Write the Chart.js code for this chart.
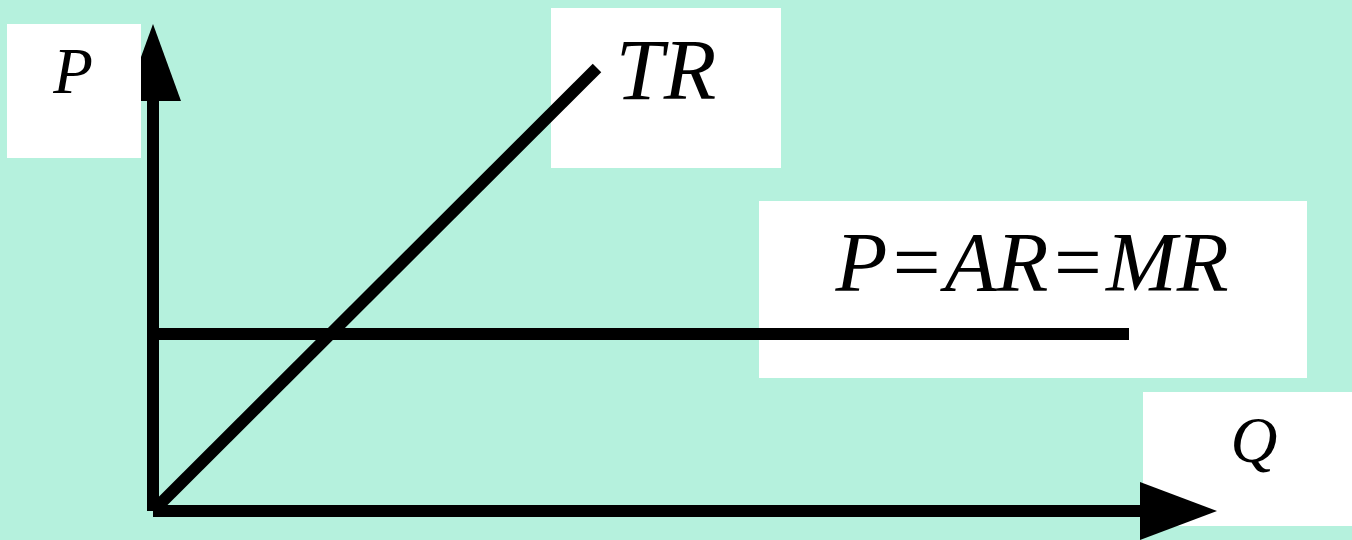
<!DOCTYPE html>
<html>
<head>
<meta charset="utf-8">
<script src="https://cdn.jsdelivr.net/npm/chart.js@4/dist/chart.umd.min.js"></script>
<style>
  html, body { margin: 0; padding: 0; background: #b5f1dd; overflow: hidden; }
  #wrap { width: 1352px; height: 540px; }
</style>
</head>
<body>
<div id="wrap"><canvas id="c" width="1352" height="540"></canvas></div>
<script>
// Quantity (Q) and revenue values of the diagram
const trQuantity = [0, 444];
const trRevenue = [0, 443];
const mrQuantity = [0, 976];
const mrPrice = [177, 177];
// axes drawn as lines: end of shaft and arrow tip
const yAxisQ = [0, 0];
const yAxisP = [0, 410];
const yAxisTip = 487;
const xAxisQ = [0, 987];
const xAxisP = [0, 0];
const xAxisTip = 1064;
// labels
const labelTexts = ['P', 'TR', 'P=AR=MR', 'Q'];
const labelAnchors = [[-80, 418], [513, 412], [879, 220], [1101, 49]];
const labelBoxes = [[-146, 487, -12, 353], [398, 503, 628, 343], [606, 310, 1154, 133], [990, 119, 1210, -15]];
const labelSizes = [65, 86, 85, 65];

const toPts = (xs, ys) => xs.map((x, i) => ({ x: x, y: ys[i] }));

function drawBox(ctx, sx, sy, i) {
  const b = labelBoxes[i];
  const x1 = sx.getPixelForValue(b[0]), y1 = sy.getPixelForValue(b[1]);
  const x2 = sx.getPixelForValue(b[2]), y2 = sy.getPixelForValue(b[3]);
  ctx.fillStyle = '#ffffff';
  ctx.fillRect(x1, y1, x2 - x1, y2 - y1);
  const a = labelAnchors[i];
  ctx.fillStyle = '#000000';
  ctx.font = 'italic ' + labelSizes[i] + 'px "Liberation Serif", "Times New Roman", serif';
  ctx.textAlign = 'center';
  ctx.textBaseline = 'alphabetic';
  ctx.fillText(labelTexts[i], sx.getPixelForValue(a[0]), sy.getPixelForValue(a[1]));
}

const diagramPlugin = {
  id: 'diagram',
  beforeDraw(chart) {
    const ctx = chart.ctx;
    ctx.save();
    ctx.fillStyle = '#b5f1dd';
    ctx.fillRect(0, 0, chart.width, chart.height);
    ctx.restore();
  },
  beforeDatasetsDraw(chart) {
    const ctx = chart.ctx, sx = chart.scales.x, sy = chart.scales.y;
    ctx.save();
    drawBox(ctx, sx, sy, 1);
    drawBox(ctx, sx, sy, 2);
    drawBox(ctx, sx, sy, 3);
    ctx.restore();
  },
  afterDatasetsDraw(chart) {
    const ctx = chart.ctx, sx = chart.scales.x, sy = chart.scales.y;
    ctx.save();
    ctx.fillStyle = '#000000';
    // y-axis arrow head
    const yx = sx.getPixelForValue(0);
    const yBase = sy.getPixelForValue(yAxisP[1]);
    const yTip = sy.getPixelForValue(yAxisTip);
    ctx.beginPath();
    ctx.moveTo(yx, yTip);
    ctx.lineTo(yx + 28, yBase);
    ctx.lineTo(yx - 28, yBase);
    ctx.closePath();
    ctx.fill();
    drawBox(ctx, sx, sy, 0);
    // x-axis arrow head
    ctx.fillStyle = '#000000';
    const xy = sy.getPixelForValue(0);
    const xBase = sx.getPixelForValue(xAxisQ[1]);
    const xTip = sx.getPixelForValue(xAxisTip);
    ctx.beginPath();
    ctx.moveTo(xTip, xy);
    ctx.lineTo(xBase, xy - 29);
    ctx.lineTo(xBase, xy + 29);
    ctx.closePath();
    ctx.fill();
    ctx.restore();
  }
};

const lineStyle = { showLine: true, borderColor: '#000000', borderWidth: 12, pointRadius: 0, borderCapStyle: 'butt', fill: false, tension: 0 };

new Chart(document.getElementById('c'), {
  type: 'scatter',
  data: {
    datasets: [
      Object.assign({ label: 'P axis', data: toPts(yAxisQ, yAxisP) }, lineStyle),
      Object.assign({ label: 'Q axis', data: toPts(xAxisQ, xAxisP) }, lineStyle),
      Object.assign({ label: 'P=AR=MR', data: toPts(mrQuantity, mrPrice) }, lineStyle),
      Object.assign({ label: 'TR', data: toPts(trQuantity, trRevenue) }, lineStyle)
    ]
  },
  options: {
    responsive: false,
    animation: false,
    layout: { padding: 0 },
    plugins: { legend: { display: false }, tooltip: { enabled: false }, title: { display: false } },
    scales: {
      x: { type: 'linear', min: -153, max: 1199, display: false },
      y: { type: 'linear', min: -29, max: 511, display: false }
    }
  },
  plugins: [diagramPlugin]
});
</script>
</body>
</html>
